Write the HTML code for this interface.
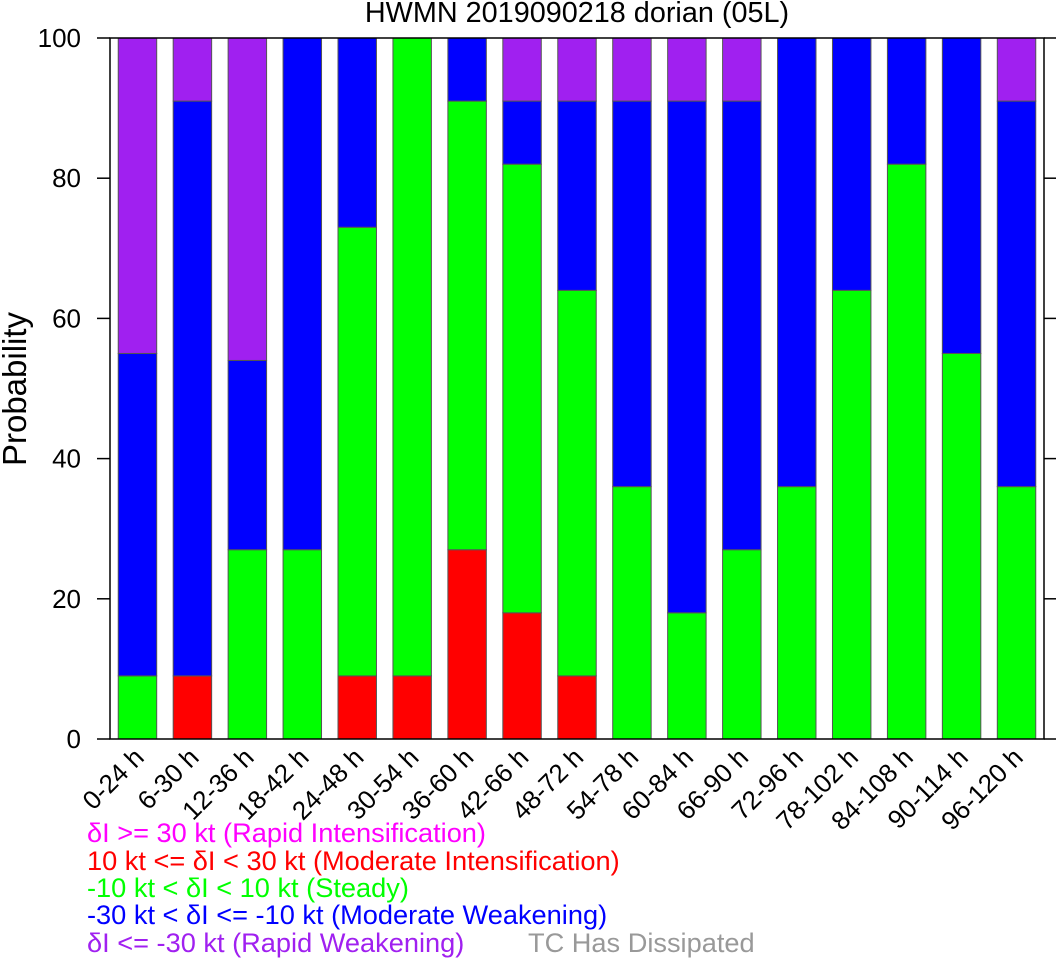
<!DOCTYPE html>
<html><head><meta charset="utf-8"><style>
body{margin:0;background:#fff;}
svg text{font-family:"Liberation Sans",sans-serif;}
</style></head><body>
<svg id="chart" width="1057" height="960" xmlns="http://www.w3.org/2000/svg">
<text x="577" y="22" font-size="28.8" text-anchor="middle">HWMN 2019090218 dorian (05L)</text>
<text transform="translate(26,389) rotate(-90)" font-size="33" text-anchor="middle">Probability</text>
<g id="bars"></g>
<g id="axes"></g>
<g font-size="27.2">
<text x="87" y="842" fill="#ff00ff">δI &gt;= 30 kt (Rapid Intensification)</text>
<text x="87" y="870" fill="#ff0000">10 kt &lt;= δI &lt; 30 kt (Moderate Intensification)</text>
<text x="87" y="897" fill="#00ff00">-10 kt &lt; δI &lt; 10 kt (Steady)</text>
<text x="87" y="924" fill="#0000ff">-30 kt &lt; δI &lt;= -10 kt (Moderate Weakening)</text>
<text x="87" y="952" fill="#a020f0">δI &lt;= -30 kt (Rapid Weakening)</text>
<text x="528" y="952" fill="#999999">TC Has Dissipated</text>
</g>
</svg>
<script>
const categories=["0-24 h","6-30 h","12-36 h","18-42 h","24-48 h","30-54 h","36-60 h","42-66 h","48-72 h","54-78 h","60-84 h","66-90 h","72-96 h","78-102 h","84-108 h","90-114 h","96-120 h"];
const riValues=[0,0,0,0,0,0,0,0,0,0,0,0,0,0,0,0,0];
const miValues=[0,9,0,0,9,9,27,18,9,0,0,0,0,0,0,0,0];
const steadyValues=[9,0,27,27,64,91,64,64,55,36,18,27,36,64,82,55,36];
const mwValues=[46,82,27,73,27,0,9,9,27,55,73,64,64,36,18,45,55];
const rwValues=[45,9,46,0,0,0,0,9,9,9,9,9,0,0,0,0,9];
const yTicks=[0,20,40,60,80,100];
const L=110,R=1044,T=38,B=739;
const xs=i=>L+(R-L)/categories.length*(i+0.5);
const bw=(R-L)/categories.length*0.7;
const ys=v=>B-(B-T)*v/100;
const NS="http://www.w3.org/2000/svg";
const bars=document.getElementById('bars'),axes=document.getElementById('axes');
function mk(tag,attrs,parent){const e=document.createElementNS(NS,tag);for(const k in attrs)e.setAttribute(k,attrs[k]);parent.appendChild(e);return e;}
const series=[["mi",miValues,"#ff0000"],["steady",steadyValues,"#00ff00"],["mw",mwValues,"#0000ff"],["rw",rwValues,"#a020f0"],["ri",riValues,"#ff00ff"]];
categories.forEach((c,i)=>{
 let acc=0;
 series.forEach(([n,vals,col])=>{
  const v=vals[i]; if(v<=0)return;
  const r=mk('rect',{x:xs(i)-bw/2,y:ys(acc+v),width:bw,height:ys(acc)-ys(acc+v),fill:col,stroke:'#555','stroke-width':1},bars);
  
  
  acc+=v;
 });
 const t=mk('text',{transform:`translate(${xs(i)+8},${B+20}) rotate(-45)`,'font-size':26,'text-anchor':'end'},axes);
 t.textContent=c;
 
 
});
const box=mk('rect',{x:L,y:T,width:R-L,height:B-T,fill:'none',stroke:'#000','stroke-width':1.5},axes);


yTicks.forEach(v=>{
 mk('line',{x1:L-13,x2:L,y1:ys(v),y2:ys(v),stroke:'#000','stroke-width':1.5},axes);
 mk('line',{x1:R,x2:R+12,y1:ys(v),y2:ys(v),stroke:'#000','stroke-width':1.5},axes);
 const t=mk('text',{x:81,y:ys(v)+9,'font-size':26,'text-anchor':'end'},axes);
 t.textContent=v;
 
 
});
</script>
</body></html>
